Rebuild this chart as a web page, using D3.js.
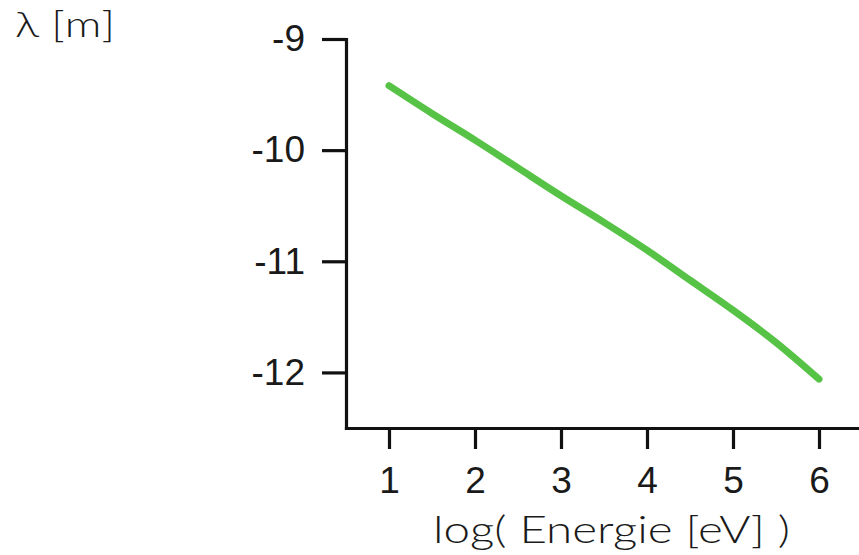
<!DOCTYPE html>
<html lang="en">
<head>
    <meta charset="UTF-8">
    <title>Wellenlänge gegen Energie</title>
    <script src="https://d3js.org/d3.v7.min.js"></script>
    <style>
        body {
            margin: 0;
            background-color: #ffffff;
        }

        .axis path, .axis line {
            stroke: #111111;
            stroke-width: 3.2px;
        }

        .axis text {
            font-family: "Liberation Sans", Arial, sans-serif;
            font-size: 37px;
            fill: #1a1a1a;
        }

        .label {
            font-family: "Lato", "DejaVu Sans", sans-serif;
            font-weight: 300;
            fill: #1a1a1a;
        }
    </style>
</head>
<body>
    <svg id="chart" width="859" height="555"></svg>

    <script>
        // log10 of energy in eV
        const logEnergy = [1, 1.5, 2, 2.5, 3, 3.5, 4, 4.5, 5, 5.5, 6];
        // log10 of wavelength in m
        const logLambda = [-9.42, -9.67, -9.91, -10.16, -10.41, -10.65, -10.9, -11.17, -11.44, -11.73, -12.06];

        const xTicks = [1, 2, 3, 4, 5, 6];
        const yTicks = [-9, -10, -11, -12];

        const svg = d3.select("#chart");

        const x = d3.scaleLinear().domain([0.5, 6.5]).range([346, 862]);
        const y = d3.scaleLinear().domain([-12.5, -9]).range([428, 39]);

        // y axis (plain hyphen for the minus sign, like the original)
        svg.append("g")
            .attr("class", "axis")
            .attr("transform", "translate(346,0)")
            .call(d3.axisLeft(y).tickValues(yTicks).tickSizeInner(24).tickSizeOuter(0).tickPadding(17).tickFormat(d => String(d)));

        // x axis
        svg.append("g")
            .attr("class", "axis")
            .attr("transform", "translate(0,428)")
            .call(d3.axisBottom(x).tickValues(xTicks).tickSizeInner(21).tickSizeOuter(0).tickPadding(18).tickFormat(d => String(d)));

        svg.selectAll(".axis .domain").attr("stroke-linecap", "square");

        // curve
        const points = logEnergy.map((e, i) => [e, logLambda[i]]);
        const line = d3.line()
            .x(d => x(d[0]))
            .y(d => y(d[1]))
            .curve(d3.curveCatmullRom);

        svg.append("path")
            .datum(points)
            .attr("d", line)
            .attr("fill", "none")
            .attr("stroke", "#57c346")
            .attr("stroke-width", 7)
            .attr("stroke-linecap", "round")
            .attr("stroke-linejoin", "round");

        // axis titles
        svg.append("text")
            .attr("class", "label")
            .attr("x", 15)
            .attr("y", 37)
            .attr("font-size", 36)
            .attr("textLength", 100)
            .attr("lengthAdjust", "spacingAndGlyphs")
            .text("λ [m]");

        svg.append("text")
            .attr("class", "label")
            .attr("x", 433)
            .attr("y", 543)
            .attr("font-size", 38)
            .attr("textLength", 357)
            .attr("lengthAdjust", "spacingAndGlyphs")
            .text("log( Energie [eV] )");
    </script>
</body>
</html>
